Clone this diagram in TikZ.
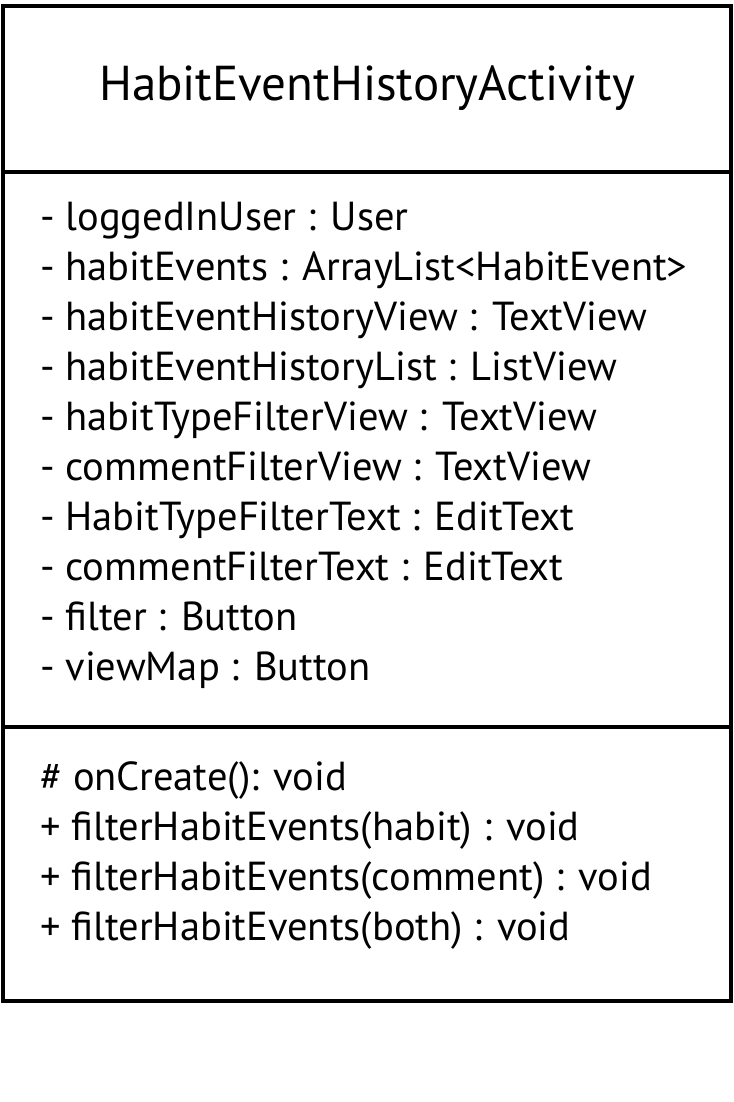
\documentclass[tikz,border=0pt]{standalone}
\usepackage{fontspec}
\setmainfont{PT Sans}
\begin{document}
\begin{tikzpicture}[x=1pt,y=-1pt,
  boxline/.style={line width=4pt},
  title/.style={anchor=base,inner sep=0pt,font=\fontsize{49}{54}\selectfont},
  member/.style={anchor=base west,inner sep=0pt,font=\fontsize{40.5}{46}\selectfont}]
\useasboundingbox (0,0) rectangle (733,1102);
\draw[boxline] (2.5,6) rectangle (731,1001);
\draw[boxline] (2.5,172) -- (731,172);
\draw[boxline] (2.5,727) -- (731,727);
\node[title] (t) at (367,101) {HabitEventHistoryActivity};
\node[member] (a1) at (40,230) {- loggedInUser : User};
\node[member] (a2) at (40,280) {- habitEvents : ArrayList<HabitEvent>};
\node[member] (a3) at (40,330) {- habitEventHistoryView : TextView};
\node[member] (a4) at (40,380) {- habitEventHistoryList : ListView};
\node[member] (a5) at (40,430) {- habitTypeFilterView : TextView};
\node[member] (a6) at (40,480) {- commentFilterView : TextView};
\node[member] (a7) at (40,530) {- HabitTypeFilterText : EditText};
\node[member] (a8) at (40,580) {- commentFilterText : EditText};
\node[member] (a9) at (40,630) {- filter : Button};
\node[member] (a10) at (40,680) {- viewMap : Button};
\node[member] (m1) at (40,790) {\# onCreate(): void};
\node[member] (m2) at (40,840) {+ filterHabitEvents(habit) : void};
\node[member] (m3) at (40,890) {+ filterHabitEvents(comment) : void};
\node[member] (m4) at (40,940) {+ filterHabitEvents(both) : void};
\end{tikzpicture}
\end{document}
